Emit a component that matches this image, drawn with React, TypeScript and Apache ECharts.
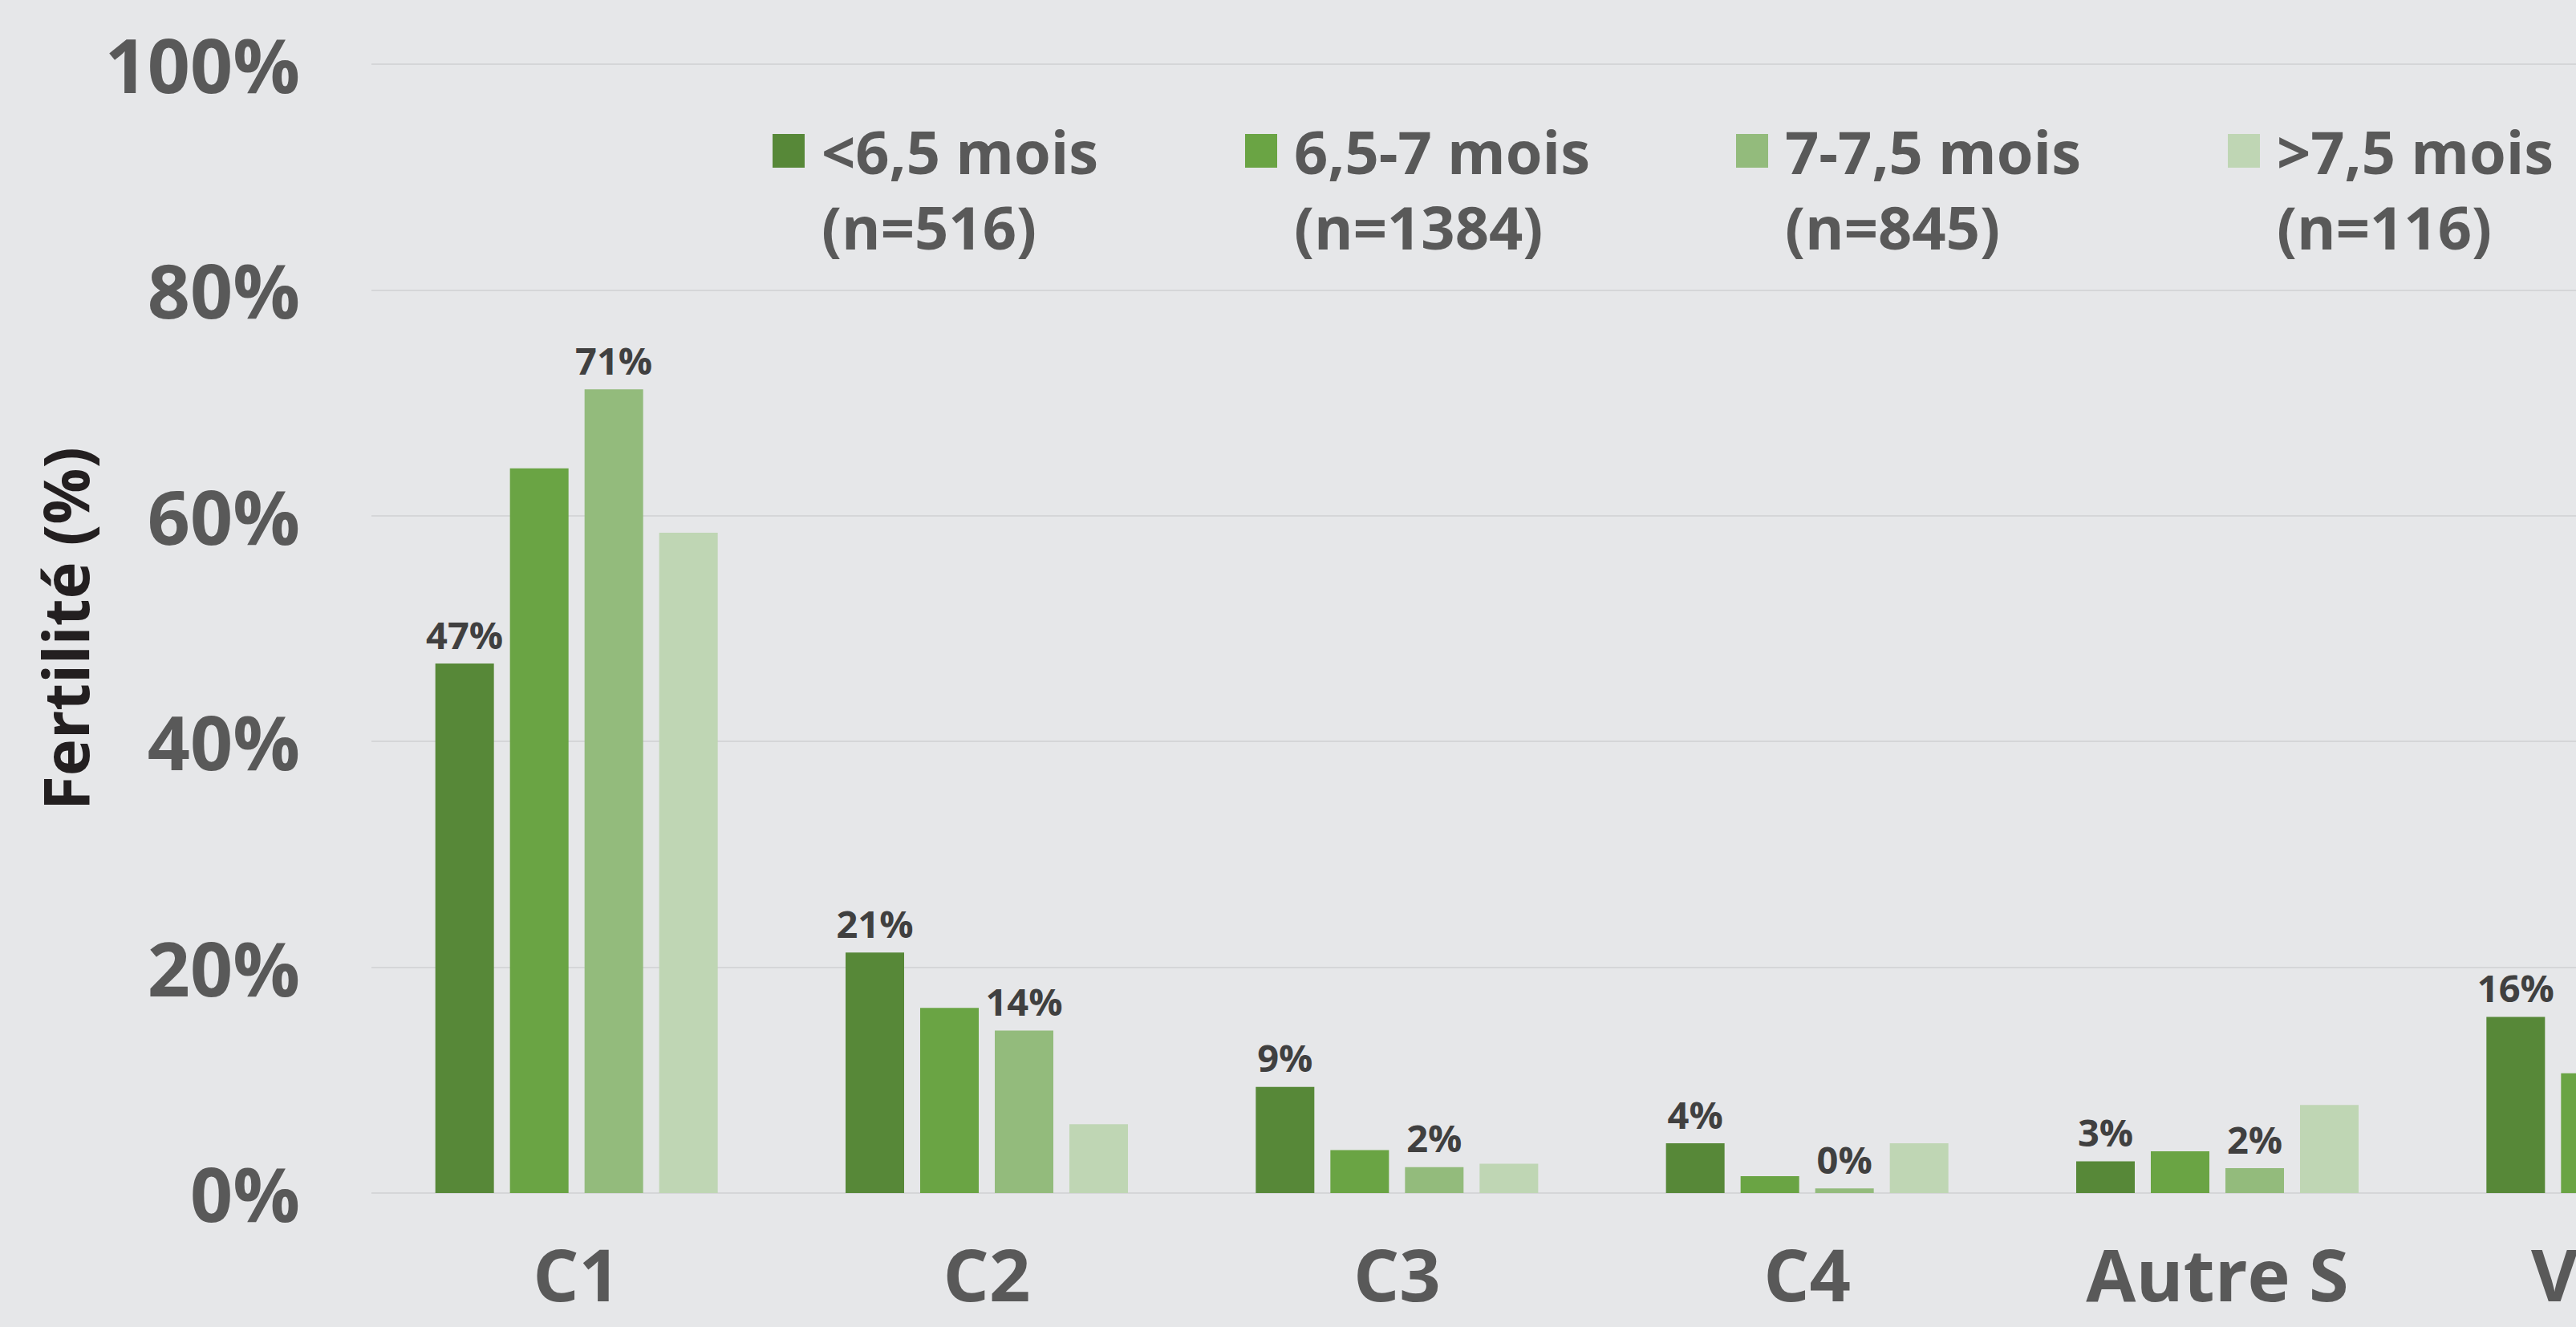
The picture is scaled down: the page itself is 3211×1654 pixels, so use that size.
import React, { useEffect, useRef } from "react";
import * as echarts from "echarts";

// ---- data ----
const categories = ["C1", "C2", "C3", "C4", "Autre S", "Vides"];
const seriesNames = ["<6,5 mois", "6,5-7 mois", "7-7,5 mois", ">7,5 mois"];
const seriesCounts = [516, 1384, 845, 116];
const valuesLt65 = [46.9, 21.3, 9.4, 4.4, 2.8, 15.6];
const values65to7 = [64.2, 16.4, 3.8, 1.5, 3.7, 10.6];
const values7to75 = [71.2, 14.4, 2.3, 0.4, 2.2, null];
const valuesGt75 = [58.5, 6.1, 2.6, 4.4, 7.8, null];
const labelledSeries = [true, false, true, false];
const yTicks = { min: 0, max: 100, interval: 20 };

// ---- style ----
const colors = ["#578838", "#6aa444", "#93bb7c", "#bfd6b4"];
const legendLefts = [958, 1547, 2159, 2772];
const FONT = "'Open Sans', 'Noto Sans', sans-serif";
const BG = "#e6e7e9";

export default function App() {
  const ref = useRef<HTMLDivElement>(null);
  useEffect(() => {
    if (!ref.current) return;
    const chart = echarts.init(ref.current, undefined, { renderer: "svg" });
    const allValues = [valuesLt65, values65to7, values7to75, valuesGt75];
    const series = seriesNames.map((name, i) => ({
      name,
      type: "bar",
      data: allValues[i],
      barWidth: 73,
      barGap: "27.4%",
      itemStyle: { color: colors[i], borderWidth: 0 },
      label: {
        show: labelledSeries[i],
        position: "top",
        distance: 13,
        fontFamily: FONT,
        fontWeight: "bold",
        fontSize: 47,
        color: "#404040",
        formatter: (p: any) => `${Math.round(p.value)}%`,
      },
    }));
    const legends = seriesNames.map((name, i) => ({
      show: true,
      data: [name],
      left: legendLefts[i],
      top: 136,
      orient: "horizontal",
      itemWidth: 56,
      itemHeight: 136,
      icon: "path://M0,0h40v42h-40z M0,136 L56,136",
      itemStyle: { borderWidth: 0 },
      selectedMode: false,
      formatter: (n: string) => `${n}\n(n=${seriesCounts[seriesNames.indexOf(n)]})`,
      textStyle: {
        fontFamily: FONT,
        fontWeight: "bold",
        fontSize: 74,
        lineHeight: 94,
        color: "#595959",
      },
    }));
    chart.setOption({
      animation: false,
      backgroundColor: BG,
      legend: legends,
      grid: { left: 463, right: 69, top: 80, bottom: 167, containLabel: false },
      xAxis: {
        type: "category",
        data: categories,
        axisLine: { show: false },
        axisTick: { show: false },
        axisLabel: {
          margin: 60,
          lineHeight: 80,
          fontFamily: FONT,
          fontWeight: "bold",
          fontSize: 90,
          color: "#595959",
        },
      },
      yAxis: {
        type: "value",
        min: yTicks.min,
        max: yTicks.max,
        interval: yTicks.interval,
        name: "Fertilité (%)",
        nameLocation: "middle",
        nameGap: 324,
        nameTextStyle: {
          fontFamily: FONT,
          fontWeight: "bold",
          fontSize: 78,
          color: "#231f20",
        },
        axisLine: { show: false },
        axisTick: { show: false },
        splitLine: { lineStyle: { color: "#d5d6d8", width: 2 } },
        axisLabel: {
          margin: 89,
          fontFamily: FONT,
          fontWeight: "bold",
          fontSize: 93,
          color: "#595959",
          formatter: "{value}%",
        },
      },
      series,
    });
    return () => chart.dispose();
  }, []);
  return (
    <div
      style={{
        position: "fixed",
        left: 0,
        top: 0,
        width: "100vw",
        height: "100vh",
        overflow: "hidden",
        background: BG,
      }}
    >
      <div ref={ref} style={{ width: 3600, height: 1654 }} />
    </div>
  );
}
